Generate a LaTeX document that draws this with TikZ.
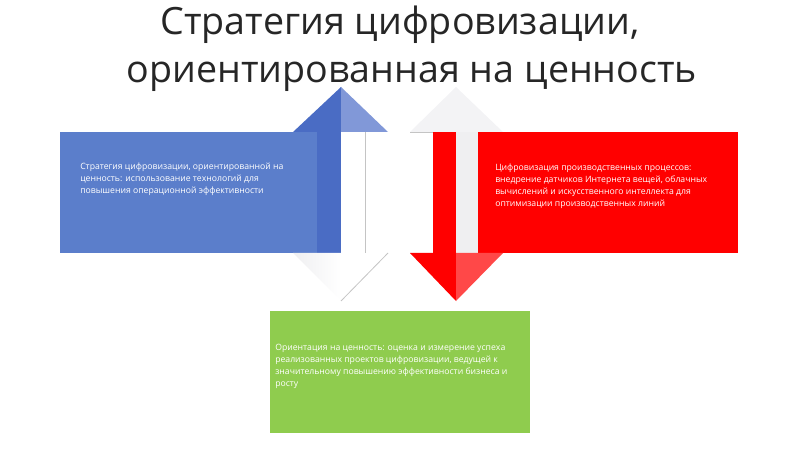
\documentclass[tikz,border=0pt]{standalone}
\usepackage{fontspec}
\setmainfont{Open Sans}
\usetikzlibrary{positioning}
\definecolor{titleInk}{HTML}{262626}
\definecolor{blueRect}{HTML}{5B7ECB}
\definecolor{blueDark}{HTML}{4A6CC4}
\definecolor{blueLight}{HTML}{8198D8}
\definecolor{redRect}{HTML}{FF0000}
\definecolor{redLight}{HTML}{FF4848}
\definecolor{greenRect}{HTML}{8FCC4E}
\definecolor{paleGray}{HTML}{EFEFF1}
\definecolor{paleHead}{HTML}{F3F3F5}
\definecolor{edgeGray}{HTML}{C4C4C4}

\begin{document}
\begin{tikzpicture}[x=0.75pt,y=-0.75pt,
	titletext/.style={font=\fontsize{28.2}{36}\selectfont, text=titleInk, anchor=base},
	boxtext/.style={font=\fontsize{6.5}{9}\selectfont, text=white, align=left, anchor=north west, inner sep=0pt},
	edgeline/.style={draw=edgeGray, line width=0.6pt}]
	\useasboundingbox (0,0) rectangle (800,449);

	% title
	\node[titletext] (title1) at (400,35) {Стратегия цифровизации,};
	\node[titletext] (title2) at (412,83) {ориентированная на ценность};

	% left box and its double arrow
	\fill[blueRect] (60,132) rectangle (317,253);
	\fill[blueDark] (317,132) rectangle (341,253);
	\draw[edgeline] (365,132) -- (365,253);
	\fill[blueDark] (293,132) -- (341,87) -- (341,132) -- cycle;
	\fill[blueLight] (341,87) -- (388,132) -- (341,132) -- cycle;
	\shade[left color=paleGray, right color=white] (293,253) -- (341,253) -- (341,301) -- cycle;
	\draw[edgeline] (388,253) -- (341,301);

	% right box and its double arrow
	\fill[paleHead] (410,132) -- (456,87) -- (503,132) -- cycle;
	\draw[edgeline] (410,132) -- (433,132);
	\fill[redRect] (433,132) rectangle (456,253);
	\fill[paleGray] (456,132) rectangle (478,253);
	\fill[redRect] (478,132) rectangle (738,253);
	\fill[redRect] (410,253) -- (456,253) -- (456,301) -- cycle;
	\fill[redLight] (456,253) -- (503,253) -- (456,301) -- cycle;

	% bottom box
	\fill[greenRect] (270,311) rectangle (530,433);

	% texts
	\node[boxtext] (blueText) at (80,163) {Стратегия цифровизации, ориентированной на\\ценность: использование технологий для\\повышения операционной эффективности};
	\node[boxtext] (redText) at (495,164) {Цифровизация производственных процессов:\\внедрение датчиков Интернета вещей, облачных\\вычислений и искусственного интеллекта для\\оптимизации производственных линий};
	\node[boxtext] (greenText) at (275,344) {Ориентация на ценность: оценка и измерение успеха\\реализованных проектов цифровизации, ведущей к\\значительному повышению эффективности бизнеса и\\росту};
\end{tikzpicture}
\end{document}
